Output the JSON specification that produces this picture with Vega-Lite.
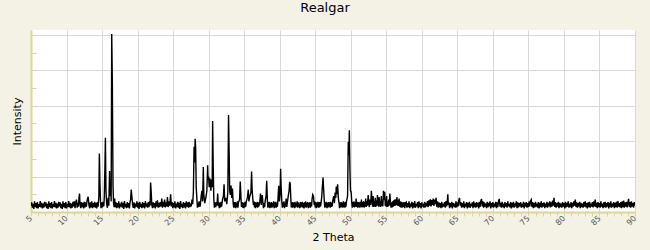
{
  "$schema": "https://vega.github.io/schema/vega-lite/v6.json",
  "autosize": "none",
  "width": 604,
  "height": 182,
  "padding": {"left": 31, "top": 30, "right": 15, "bottom": 38},
  "background": "#f4f2e5",
  "title": {"text": "Realgar", "fontSize": 13, "font": "DejaVu Sans", "fontWeight": "normal", "color": "#000000", "baseline": "alphabetic", "offset": 5, "dx": -8},
  "config": {"view": {"stroke": null, "fill": "#ffffff"}},
  "data": {"values": [
    {"theta":5.0,"intensity":18},{"theta":5.1,"intensity":27},{"theta":5.2,"intensity":12},{"theta":5.3,"intensity":23},{"theta":5.4,"intensity":9},
    {"theta":5.5,"intensity":30},{"theta":5.6,"intensity":14},{"theta":5.7,"intensity":25},{"theta":5.8,"intensity":11},{"theta":5.9,"intensity":28},
    {"theta":6.0,"intensity":10},{"theta":6.1,"intensity":22},{"theta":6.2,"intensity":15},{"theta":6.3,"intensity":31},{"theta":6.4,"intensity":13},
    {"theta":6.5,"intensity":26},{"theta":6.6,"intensity":10},{"theta":6.7,"intensity":24},{"theta":6.8,"intensity":12},{"theta":6.9,"intensity":29},
    {"theta":7.0,"intensity":16},{"theta":7.1,"intensity":27},{"theta":7.2,"intensity":11},{"theta":7.3,"intensity":23},{"theta":7.4,"intensity":9},
    {"theta":7.5,"intensity":30},{"theta":7.6,"intensity":14},{"theta":7.7,"intensity":25},{"theta":7.8,"intensity":11},{"theta":7.9,"intensity":28},
    {"theta":8.0,"intensity":10},{"theta":8.1,"intensity":22},{"theta":8.2,"intensity":15},{"theta":8.3,"intensity":31},{"theta":8.4,"intensity":13},
    {"theta":8.5,"intensity":26},{"theta":8.6,"intensity":10},{"theta":8.7,"intensity":24},{"theta":8.8,"intensity":12},{"theta":8.9,"intensity":29},
    {"theta":9.0,"intensity":16},{"theta":9.1,"intensity":27},{"theta":9.2,"intensity":11},{"theta":9.3,"intensity":23},{"theta":9.4,"intensity":9},
    {"theta":9.5,"intensity":30},{"theta":9.6,"intensity":14},{"theta":9.7,"intensity":25},{"theta":9.8,"intensity":11},{"theta":9.9,"intensity":28},
    {"theta":10.0,"intensity":10},{"theta":10.1,"intensity":22},{"theta":10.2,"intensity":15},{"theta":10.3,"intensity":31},{"theta":10.4,"intensity":13},
    {"theta":10.5,"intensity":26},{"theta":10.6,"intensity":10},{"theta":10.7,"intensity":24},{"theta":10.8,"intensity":12},{"theta":10.9,"intensity":29},
    {"theta":11.0,"intensity":16},{"theta":11.1,"intensity":30},{"theta":11.2,"intensity":11},{"theta":11.3,"intensity":28},{"theta":11.4,"intensity":35},
    {"theta":11.5,"intensity":12},{"theta":11.6,"intensity":26},{"theta":11.68,"intensity":15},{"theta":11.75,"intensity":40},
    {"theta":11.83,"intensity":52},{"theta":11.9,"intensity":22},{"theta":12.0,"intensity":11},{"theta":12.1,"intensity":28},{"theta":12.2,"intensity":14},
    {"theta":12.3,"intensity":26},{"theta":12.4,"intensity":10},{"theta":12.5,"intensity":29},{"theta":12.6,"intensity":13},{"theta":12.7,"intensity":27},
    {"theta":12.8,"intensity":15},{"theta":12.88,"intensity":30},{"theta":12.95,"intensity":38},{"theta":13.05,"intensity":43},{"theta":13.15,"intensity":20},
    {"theta":13.25,"intensity":10},{"theta":13.35,"intensity":27},{"theta":13.45,"intensity":13},{"theta":13.55,"intensity":30},{"theta":13.65,"intensity":11},
    {"theta":13.75,"intensity":25},{"theta":13.85,"intensity":14},{"theta":13.95,"intensity":29},{"theta":14.05,"intensity":12},{"theta":14.15,"intensity":26},
    {"theta":14.25,"intensity":10},{"theta":14.35,"intensity":28},{"theta":14.45,"intensity":15},{"theta":14.55,"intensity":45},{"theta":14.62,"intensity":165},{"theta":14.7,"intensity":82},
    {"theta":14.78,"intensity":30},{"theta":14.85,"intensity":11},{"theta":14.95,"intensity":27},{"theta":15.05,"intensity":13},{"theta":15.15,"intensity":29},{"theta":15.25,"intensity":16},{"theta":15.32,"intensity":45},
    {"theta":15.4,"intensity":125},{"theta":15.47,"intensity":210},{"theta":15.55,"intensity":60},{"theta":15.65,"intensity":22},{"theta":15.75,"intensity":12},
    {"theta":15.85,"intensity":40},{"theta":15.95,"intensity":18},{"theta":16.06,"intensity":116},{"theta":16.13,"intensity":45},{"theta":16.22,"intensity":70},
    {"theta":16.28,"intensity":30},{"theta":16.36,"intensity":503},{"theta":16.45,"intensity":362},{"theta":16.54,"intensity":75},{"theta":16.62,"intensity":25},
    {"theta":16.7,"intensity":14},{"theta":16.77,"intensity":38},
    {"theta":16.85,"intensity":14},{"theta":16.95,"intensity":28},{"theta":17.05,"intensity":11},{"theta":17.15,"intensity":25},{"theta":17.25,"intensity":13},
    {"theta":17.35,"intensity":30},{"theta":17.45,"intensity":10},{"theta":17.55,"intensity":24},{"theta":17.65,"intensity":15},{"theta":17.75,"intensity":29},
    {"theta":17.85,"intensity":12},{"theta":17.95,"intensity":26},{"theta":18.05,"intensity":9},{"theta":18.15,"intensity":31},{"theta":18.25,"intensity":14},
    {"theta":18.35,"intensity":23},{"theta":18.45,"intensity":11},{"theta":18.55,"intensity":28},{"theta":18.65,"intensity":13},{"theta":18.75,"intensity":25},
    {"theta":18.85,"intensity":10},{"theta":18.95,"intensity":30},{"theta":19.02,"intensity":35},{"theta":19.1,"intensity":63},{"theta":19.2,"intensity":43},
    {"theta":19.3,"intensity":20},{"theta":19.4,"intensity":12},{"theta":19.5,"intensity":27},{"theta":19.6,"intensity":10},{"theta":19.7,"intensity":24},
    {"theta":19.8,"intensity":15},{"theta":19.9,"intensity":30},{"theta":20.0,"intensity":12},{"theta":20.1,"intensity":26},{"theta":20.2,"intensity":9},
    {"theta":20.3,"intensity":29},{"theta":20.4,"intensity":14},{"theta":20.5,"intensity":23},{"theta":20.6,"intensity":11},{"theta":20.7,"intensity":28},
    {"theta":20.8,"intensity":13},{"theta":20.9,"intensity":25},{"theta":21.0,"intensity":10},{"theta":21.1,"intensity":31},{"theta":21.2,"intensity":15},
    {"theta":21.3,"intensity":24},{"theta":21.4,"intensity":12},{"theta":21.5,"intensity":28},{"theta":21.6,"intensity":14},{"theta":21.7,"intensity":30},
    {"theta":21.77,"intensity":18},{"theta":21.83,"intensity":83},{"theta":21.92,"intensity":55},{"theta":22.0,"intensity":20},{"theta":22.1,"intensity":11},
    {"theta":22.2,"intensity":27},{"theta":22.3,"intensity":13},{"theta":22.4,"intensity":25},{"theta":22.5,"intensity":10},{"theta":22.6,"intensity":30},
    {"theta":22.7,"intensity":15},{"theta":22.8,"intensity":33},{"theta":22.9,"intensity":12},{"theta":23.0,"intensity":26},{"theta":23.1,"intensity":14},
    {"theta":23.2,"intensity":28},{"theta":23.3,"intensity":16},{"theta":23.4,"intensity":38},{"theta":23.5,"intensity":12},{"theta":23.6,"intensity":29},
    {"theta":23.7,"intensity":15},{"theta":23.8,"intensity":35},{"theta":23.9,"intensity":13},{"theta":24.0,"intensity":27},{"theta":24.1,"intensity":16},
    {"theta":24.2,"intensity":42},{"theta":24.3,"intensity":14},{"theta":24.4,"intensity":30},{"theta":24.5,"intensity":18},{"theta":24.58,"intensity":32},
    {"theta":24.65,"intensity":50},{"theta":24.75,"intensity":16},{"theta":24.85,"intensity":28},{"theta":24.95,"intensity":11},{"theta":25.05,"intensity":25},
    {"theta":25.15,"intensity":13},{"theta":25.25,"intensity":30},{"theta":25.35,"intensity":10},{"theta":25.45,"intensity":24},{"theta":25.55,"intensity":14},
    {"theta":25.65,"intensity":29},{"theta":25.75,"intensity":12},{"theta":25.85,"intensity":26},{"theta":25.95,"intensity":9},{"theta":26.05,"intensity":31},
    {"theta":26.15,"intensity":14},{"theta":26.25,"intensity":23},{"theta":26.35,"intensity":11},{"theta":26.45,"intensity":28},{"theta":26.55,"intensity":13},
    {"theta":26.65,"intensity":25},{"theta":26.75,"intensity":10},{"theta":26.85,"intensity":30},{"theta":26.95,"intensity":15},{"theta":27.05,"intensity":27},
    {"theta":27.15,"intensity":12},{"theta":27.25,"intensity":29},{"theta":27.35,"intensity":14},{"theta":27.45,"intensity":24},{"theta":27.55,"intensity":16},
    {"theta":27.65,"intensity":35},{"theta":27.75,"intensity":22},{"theta":27.85,"intensity":55},{"theta":27.95,"intensity":184},{"theta":28.03,"intensity":140},
    {"theta":28.1,"intensity":207},{"theta":28.17,"intensity":183},{"theta":28.25,"intensity":70},{"theta":28.35,"intensity":35},{"theta":28.42,"intensity":12},{"theta":28.5,"intensity":26},
    {"theta":28.58,"intensity":14},{"theta":28.65,"intensity":30},{"theta":28.8,"intensity":15},{"theta":28.95,"intensity":45},{"theta":29.05,"intensity":60},{"theta":29.15,"intensity":30},
    {"theta":29.25,"intensity":127},{"theta":29.32,"intensity":50},{"theta":29.45,"intensity":25},{"theta":29.6,"intensity":40},{"theta":29.75,"intensity":60},
    {"theta":29.86,"intensity":132},{"theta":29.92,"intensity":90},{"theta":30.0,"intensity":100},{"theta":30.08,"intensity":70},{"theta":30.15,"intensity":95},
    {"theta":30.25,"intensity":88},{"theta":30.32,"intensity":60},{"theta":30.42,"intensity":92},{"theta":30.5,"intensity":70},{"theta":30.56,"intensity":257},
    {"theta":30.64,"intensity":134},{"theta":30.72,"intensity":40},{"theta":30.8,"intensity":12},{"theta":30.9,"intensity":27},{"theta":31.0,"intensity":14},{"theta":31.1,"intensity":28},
    {"theta":31.18,"intensity":18},{"theta":31.27,"intensity":52},{"theta":31.35,"intensity":18},{"theta":31.42,"intensity":28},{"theta":31.5,"intensity":11},{"theta":31.58,"intensity":26},{"theta":31.66,"intensity":13},
    {"theta":31.74,"intensity":29},{"theta":31.82,"intensity":15},{"theta":31.95,"intensity":35},{"theta":32.08,"intensity":45},{"theta":32.17,"intensity":78},{"theta":32.26,"intensity":30},{"theta":32.4,"intensity":40},
    {"theta":32.55,"intensity":22},{"theta":32.7,"intensity":55},{"theta":32.8,"intensity":274},{"theta":32.88,"intensity":175},{"theta":32.96,"intensity":60},
    {"theta":33.05,"intensity":48},{"theta":33.15,"intensity":75},{"theta":33.25,"intensity":40},{"theta":33.35,"intensity":66},{"theta":33.45,"intensity":25},
    {"theta":33.53,"intensity":12},{"theta":33.6,"intensity":28},{"theta":33.68,"intensity":13},{"theta":33.75,"intensity":28},{"theta":33.82,"intensity":11},{"theta":33.9,"intensity":26},{"theta":33.98,"intensity":14},{"theta":34.05,"intensity":30},{"theta":34.12,"intensity":12},{"theta":34.2,"intensity":27},
    {"theta":34.35,"intensity":35},{"theta":34.45,"intensity":86},{"theta":34.55,"intensity":40},{"theta":34.62,"intensity":14},{"theta":34.7,"intensity":28},{"theta":34.78,"intensity":12},{"theta":34.85,"intensity":26},
    {"theta":34.93,"intensity":11},{"theta":35.0,"intensity":27},{"theta":35.08,"intensity":13},{"theta":35.15,"intensity":29},{"theta":35.22,"intensity":15},{"theta":35.3,"intensity":30},{"theta":35.45,"intensity":40},{"theta":35.58,"intensity":63},
    {"theta":35.66,"intensity":30},{"theta":35.8,"intensity":45},{"theta":35.95,"intensity":55},{"theta":36.04,"intensity":114},{"theta":36.12,"intensity":64},
    {"theta":36.2,"intensity":40},{"theta":36.3,"intensity":20},{"theta":36.38,"intensity":30},{"theta":36.45,"intensity":13},{"theta":36.53,"intensity":28},{"theta":36.6,"intensity":11},{"theta":36.68,"intensity":26},{"theta":36.75,"intensity":14},
    {"theta":36.83,"intensity":29},{"theta":36.9,"intensity":12},{"theta":36.98,"intensity":27},{"theta":37.05,"intensity":15},{"theta":37.2,"intensity":30},{"theta":37.3,"intensity":52},{"theta":37.4,"intensity":20},
    {"theta":37.55,"intensity":48},{"theta":37.65,"intensity":22},{"theta":37.72,"intensity":11},{"theta":37.8,"intensity":26},{"theta":37.88,"intensity":14},{"theta":37.95,"intensity":30},{"theta":38.08,"intensity":45},
    {"theta":38.17,"intensity":88},{"theta":38.26,"intensity":35},{"theta":38.33,"intensity":12},{"theta":38.4,"intensity":27},{"theta":38.48,"intensity":14},{"theta":38.55,"intensity":29},{"theta":38.62,"intensity":11},{"theta":38.7,"intensity":26},
    {"theta":38.78,"intensity":13},{"theta":38.85,"intensity":28},{"theta":38.92,"intensity":12},{"theta":39.0,"intensity":25},{"theta":39.08,"intensity":15},{"theta":39.15,"intensity":30},{"theta":39.22,"intensity":11},{"theta":39.3,"intensity":27},{"theta":39.38,"intensity":13},{"theta":39.45,"intensity":29},
    {"theta":39.52,"intensity":12},{"theta":39.6,"intensity":26},{"theta":39.68,"intensity":15},{"theta":39.75,"intensity":35},{"theta":39.86,"intensity":74},{"theta":39.95,"intensity":30},{"theta":40.05,"intensity":50},
    {"theta":40.13,"intensity":122},{"theta":40.2,"intensity":70},{"theta":40.3,"intensity":28},{"theta":40.38,"intensity":12},{"theta":40.45,"intensity":27},{"theta":40.52,"intensity":14},{"theta":40.6,"intensity":30},
    {"theta":40.68,"intensity":11},{"theta":40.75,"intensity":26},{"theta":40.82,"intensity":15},{"theta":40.9,"intensity":38},{"theta":41.0,"intensity":14},{"theta":41.08,"intensity":28},{"theta":41.2,"intensity":45},{"theta":41.32,"intensity":60},
    {"theta":41.4,"intensity":85},{"theta":41.48,"intensity":80},{"theta":41.56,"intensity":40},{"theta":41.63,"intensity":13},{"theta":41.7,"intensity":27},{"theta":41.78,"intensity":12},{"theta":41.85,"intensity":28},
    {"theta":41.92,"intensity":14},{"theta":42.0,"intensity":26},{"theta":42.08,"intensity":11},{"theta":42.15,"intensity":29},{"theta":42.22,"intensity":13},{"theta":42.3,"intensity":25},{"theta":42.38,"intensity":15},{"theta":42.45,"intensity":30},{"theta":42.52,"intensity":12},{"theta":42.6,"intensity":27},
    {"theta":42.68,"intensity":14},{"theta":42.75,"intensity":24},{"theta":42.82,"intensity":11},{"theta":42.9,"intensity":28},{"theta":42.98,"intensity":13},{"theta":43.05,"intensity":27},{"theta":43.12,"intensity":15},{"theta":43.2,"intensity":29},{"theta":43.28,"intensity":12},{"theta":43.35,"intensity":25},
    {"theta":43.42,"intensity":10},{"theta":43.5,"intensity":27},{"theta":43.58,"intensity":14},{"theta":43.65,"intensity":30},{"theta":43.72,"intensity":12},{"theta":43.8,"intensity":26},{"theta":43.88,"intensity":15},{"theta":43.95,"intensity":28},{"theta":44.02,"intensity":11},{"theta":44.1,"intensity":25},
    {"theta":44.18,"intensity":13},{"theta":44.25,"intensity":28},{"theta":44.32,"intensity":12},{"theta":44.4,"intensity":27},{"theta":44.48,"intensity":16},{"theta":44.55,"intensity":35},{"theta":44.65,"intensity":49},{"theta":44.75,"intensity":45},
    {"theta":44.85,"intensity":20},{"theta":44.92,"intensity":30},{"theta":45.0,"intensity":13},{"theta":45.08,"intensity":28},{"theta":45.15,"intensity":11},{"theta":45.22,"intensity":26},{"theta":45.3,"intensity":14},{"theta":45.38,"intensity":29},{"theta":45.45,"intensity":12},
    {"theta":45.52,"intensity":27},{"theta":45.6,"intensity":13},{"theta":45.68,"intensity":28},{"theta":45.75,"intensity":16},{"theta":45.82,"intensity":26},{"theta":45.9,"intensity":40},{"theta":46.0,"intensity":70},{"theta":46.1,"intensity":97},
    {"theta":46.18,"intensity":65},{"theta":46.28,"intensity":30},{"theta":46.35,"intensity":12},{"theta":46.42,"intensity":27},{"theta":46.5,"intensity":14},{"theta":46.58,"intensity":29},{"theta":46.65,"intensity":11},{"theta":46.72,"intensity":26},
    {"theta":46.8,"intensity":13},{"theta":46.88,"intensity":28},{"theta":46.95,"intensity":15},{"theta":47.02,"intensity":27},{"theta":47.1,"intensity":12},{"theta":47.18,"intensity":29},{"theta":47.25,"intensity":14},{"theta":47.32,"intensity":26},{"theta":47.4,"intensity":16},{"theta":47.45,"intensity":30},
    {"theta":47.6,"intensity":45},{"theta":47.7,"intensity":25},{"theta":47.8,"intensity":55},{"theta":47.9,"intensity":40},{"theta":47.96,"intensity":72},
    {"theta":48.05,"intensity":50},{"theta":48.15,"intensity":78},{"theta":48.25,"intensity":40},{"theta":48.35,"intensity":25},{"theta":48.42,"intensity":11},{"theta":48.5,"intensity":27},
    {"theta":48.58,"intensity":13},{"theta":48.65,"intensity":28},{"theta":48.72,"intensity":14},{"theta":48.8,"intensity":26},{"theta":48.88,"intensity":12},{"theta":48.95,"intensity":30},{"theta":49.02,"intensity":14},{"theta":49.1,"intensity":27},{"theta":49.18,"intensity":12},{"theta":49.25,"intensity":29},
    {"theta":49.32,"intensity":15},{"theta":49.4,"intensity":30},{"theta":49.55,"intensity":45},{"theta":49.65,"intensity":198},{"theta":49.72,"intensity":160},{"theta":49.8,"intensity":231},
    {"theta":49.88,"intensity":122},{"theta":49.96,"intensity":60},{"theta":50.05,"intensity":57},{"theta":50.15,"intensity":25},{"theta":50.22,"intensity":12},{"theta":50.3,"intensity":28},
    {"theta":50.38,"intensity":14},{"theta":50.45,"intensity":30},{"theta":50.52,"intensity":13},{"theta":50.6,"intensity":27},{"theta":50.68,"intensity":15},{"theta":50.75,"intensity":38},{"theta":50.82,"intensity":14},{"theta":50.9,"intensity":29},{"theta":50.98,"intensity":12},{"theta":51.05,"intensity":28},
    {"theta":51.12,"intensity":14},{"theta":51.2,"intensity":27},{"theta":51.28,"intensity":12},{"theta":51.35,"intensity":29},{"theta":51.42,"intensity":15},{"theta":51.5,"intensity":35},{"theta":51.58,"intensity":13},{"theta":51.65,"intensity":28},{"theta":51.72,"intensity":14},{"theta":51.8,"intensity":30},
    {"theta":51.88,"intensity":12},{"theta":51.95,"intensity":28},{"theta":52.02,"intensity":15},{"theta":52.1,"intensity":38},{"theta":52.18,"intensity":14},{"theta":52.25,"intensity":30},{"theta":52.35,"intensity":18},{"theta":52.45,"intensity":48},{"theta":52.55,"intensity":22},
    {"theta":52.62,"intensity":14},{"theta":52.7,"intensity":35},{"theta":52.8,"intensity":20},{"theta":52.9,"intensity":60},{"theta":53.0,"intensity":30},{"theta":53.08,"intensity":15},{"theta":53.15,"intensity":45},{"theta":53.22,"intensity":14},{"theta":53.3,"intensity":30},
    {"theta":53.38,"intensity":16},{"theta":53.45,"intensity":40},{"theta":53.52,"intensity":14},{"theta":53.6,"intensity":32},{"theta":53.68,"intensity":18},{"theta":53.75,"intensity":48},{"theta":53.85,"intensity":25},{"theta":53.92,"intensity":15},{"theta":54.0,"intensity":42},
    {"theta":54.08,"intensity":16},{"theta":54.15,"intensity":30},{"theta":54.22,"intensity":14},{"theta":54.3,"intensity":45},{"theta":54.38,"intensity":18},{"theta":54.45,"intensity":32},{"theta":54.52,"intensity":16},{"theta":54.6,"intensity":60},{"theta":54.7,"intensity":35},
    {"theta":54.78,"intensity":57},{"theta":54.85,"intensity":18},{"theta":54.92,"intensity":32},{"theta":54.98,"intensity":15},{"theta":55.05,"intensity":45},{"theta":55.12,"intensity":14},{"theta":55.2,"intensity":30},{"theta":55.28,"intensity":16},{"theta":55.35,"intensity":35},
    {"theta":55.42,"intensity":18},{"theta":55.5,"intensity":52},{"theta":55.6,"intensity":25},{"theta":55.67,"intensity":12},{"theta":55.75,"intensity":27},{"theta":55.82,"intensity":13},{"theta":55.9,"intensity":30},{"theta":55.98,"intensity":15},{"theta":56.05,"intensity":33},
    {"theta":56.12,"intensity":17},{"theta":56.2,"intensity":35},{"theta":56.28,"intensity":18},{"theta":56.35,"intensity":36},{"theta":56.42,"intensity":20},{"theta":56.5,"intensity":42},{"theta":56.58,"intensity":18},{"theta":56.65,"intensity":34},{"theta":56.72,"intensity":17},{"theta":56.8,"intensity":38},
    {"theta":56.88,"intensity":15},{"theta":56.95,"intensity":30},{"theta":57.02,"intensity":13},{"theta":57.1,"intensity":29},{"theta":57.2,"intensity":12},{"theta":57.3,"intensity":27},{"theta":57.4,"intensity":14},{"theta":57.5,"intensity":28},{"theta":57.6,"intensity":11},{"theta":57.7,"intensity":26},
    {"theta":57.8,"intensity":28},{"theta":57.9,"intensity":12},{"theta":58.0,"intensity":25},{"theta":58.1,"intensity":14},{"theta":58.2,"intensity":30},
    {"theta":58.3,"intensity":11},{"theta":58.4,"intensity":24},{"theta":58.5,"intensity":15},{"theta":58.6,"intensity":29},{"theta":58.7,"intensity":10},
    {"theta":58.8,"intensity":26},{"theta":58.9,"intensity":13},{"theta":59.0,"intensity":31},{"theta":59.1,"intensity":12},{"theta":59.2,"intensity":23},
    {"theta":59.3,"intensity":16},{"theta":59.4,"intensity":28},{"theta":59.5,"intensity":11},{"theta":59.6,"intensity":30},{"theta":59.7,"intensity":14},
    {"theta":59.8,"intensity":25},{"theta":59.9,"intensity":10},{"theta":60.0,"intensity":27},{"theta":60.1,"intensity":15},{"theta":60.2,"intensity":24},
    {"theta":60.3,"intensity":12},{"theta":60.4,"intensity":29},{"theta":60.5,"intensity":13},{"theta":60.6,"intensity":26},{"theta":60.7,"intensity":16},
    {"theta":60.8,"intensity":31},{"theta":60.9,"intensity":14},{"theta":61.0,"intensity":33},{"theta":61.1,"intensity":18},{"theta":61.2,"intensity":36},
    {"theta":61.3,"intensity":16},{"theta":61.4,"intensity":34},{"theta":61.5,"intensity":20},{"theta":61.6,"intensity":38},{"theta":61.7,"intensity":17},
    {"theta":61.8,"intensity":35},{"theta":61.9,"intensity":22},{"theta":62.0,"intensity":40},{"theta":62.1,"intensity":15},{"theta":62.2,"intensity":30},
    {"theta":62.3,"intensity":12},{"theta":62.4,"intensity":27},{"theta":62.5,"intensity":14},{"theta":62.6,"intensity":25},{"theta":62.7,"intensity":11},
    {"theta":62.8,"intensity":29},{"theta":62.9,"intensity":13},{"theta":63.0,"intensity":24},{"theta":63.1,"intensity":15},{"theta":63.2,"intensity":28},
    {"theta":63.3,"intensity":12},{"theta":63.4,"intensity":31},{"theta":63.5,"intensity":16},{"theta":63.6,"intensity":35},{"theta":63.66,"intensity":50},
    {"theta":63.72,"intensity":20},{"theta":63.8,"intensity":27},{"theta":63.9,"intensity":11},{"theta":64.0,"intensity":25},{"theta":64.1,"intensity":14},
    {"theta":64.2,"intensity":29},{"theta":64.3,"intensity":10},{"theta":64.4,"intensity":26},{"theta":64.5,"intensity":15},{"theta":64.6,"intensity":24},
    {"theta":64.7,"intensity":12},{"theta":64.8,"intensity":30},{"theta":64.9,"intensity":13},{"theta":65.0,"intensity":27},{"theta":65.1,"intensity":16},
    {"theta":65.2,"intensity":33},{"theta":65.3,"intensity":40},{"theta":65.4,"intensity":18},{"theta":65.5,"intensity":28},{"theta":65.6,"intensity":12},
    {"theta":65.7,"intensity":25},{"theta":65.8,"intensity":14},{"theta":65.9,"intensity":30},{"theta":66.0,"intensity":11},{"theta":66.1,"intensity":24},
    {"theta":66.2,"intensity":15},{"theta":66.3,"intensity":28},{"theta":66.4,"intensity":10},{"theta":66.5,"intensity":26},{"theta":66.6,"intensity":13},
    {"theta":66.7,"intensity":29},{"theta":66.8,"intensity":12},{"theta":66.9,"intensity":23},{"theta":67.0,"intensity":16},{"theta":67.1,"intensity":27},
    {"theta":67.2,"intensity":11},{"theta":67.3,"intensity":30},{"theta":67.4,"intensity":14},{"theta":67.5,"intensity":25},{"theta":67.6,"intensity":12},
    {"theta":67.7,"intensity":28},{"theta":67.8,"intensity":15},{"theta":67.9,"intensity":26},{"theta":68.0,"intensity":10},{"theta":68.1,"intensity":29},
    {"theta":68.2,"intensity":14},{"theta":68.3,"intensity":31},{"theta":68.4,"intensity":37},{"theta":68.5,"intensity":16},{"theta":68.6,"intensity":30},
    {"theta":68.7,"intensity":12},{"theta":68.8,"intensity":27},{"theta":68.9,"intensity":15},{"theta":69.0,"intensity":24},{"theta":69.1,"intensity":11},
    {"theta":69.2,"intensity":29},{"theta":69.3,"intensity":13},{"theta":69.4,"intensity":26},{"theta":69.5,"intensity":16},{"theta":69.6,"intensity":30},
    {"theta":69.7,"intensity":10},{"theta":69.8,"intensity":25},{"theta":69.9,"intensity":14},{"theta":70.0,"intensity":28},{"theta":70.1,"intensity":12},
    {"theta":70.2,"intensity":24},{"theta":70.3,"intensity":15},{"theta":70.4,"intensity":29},{"theta":70.5,"intensity":11},{"theta":70.6,"intensity":27},
    {"theta":70.7,"intensity":14},{"theta":70.8,"intensity":31},{"theta":70.9,"intensity":37},{"theta":71.0,"intensity":15},{"theta":71.1,"intensity":26},
    {"theta":71.2,"intensity":12},{"theta":71.3,"intensity":29},{"theta":71.4,"intensity":14},{"theta":71.5,"intensity":24},{"theta":71.6,"intensity":11},
    {"theta":71.7,"intensity":28},{"theta":71.8,"intensity":15},{"theta":71.9,"intensity":25},{"theta":72.0,"intensity":12},{"theta":72.1,"intensity":30},
    {"theta":72.2,"intensity":16},{"theta":72.3,"intensity":23},{"theta":72.4,"intensity":13},{"theta":72.5,"intensity":28},{"theta":72.6,"intensity":10},
    {"theta":72.7,"intensity":26},{"theta":72.8,"intensity":14},{"theta":72.9,"intensity":29},{"theta":73.0,"intensity":12},{"theta":73.1,"intensity":24},
    {"theta":73.2,"intensity":15},{"theta":73.3,"intensity":30},{"theta":73.4,"intensity":11},{"theta":73.5,"intensity":27},{"theta":73.6,"intensity":13},
    {"theta":73.7,"intensity":25},{"theta":73.8,"intensity":16},{"theta":73.9,"intensity":28},{"theta":74.0,"intensity":12},{"theta":74.1,"intensity":24},
    {"theta":74.2,"intensity":14},{"theta":74.3,"intensity":29},{"theta":74.4,"intensity":10},{"theta":74.5,"intensity":26},{"theta":74.6,"intensity":15},
    {"theta":74.7,"intensity":28},{"theta":74.8,"intensity":12},{"theta":74.9,"intensity":25},{"theta":75.0,"intensity":14},{"theta":75.1,"intensity":30},
    {"theta":75.2,"intensity":16},{"theta":75.3,"intensity":32},{"theta":75.4,"intensity":35},{"theta":75.5,"intensity":14},{"theta":75.6,"intensity":28},
    {"theta":75.7,"intensity":11},{"theta":75.8,"intensity":25},{"theta":75.9,"intensity":13},{"theta":76.0,"intensity":29},{"theta":76.1,"intensity":15},
    {"theta":76.2,"intensity":24},{"theta":76.3,"intensity":12},{"theta":76.4,"intensity":28},{"theta":76.5,"intensity":10},{"theta":76.6,"intensity":26},
    {"theta":76.7,"intensity":14},{"theta":76.8,"intensity":30},{"theta":76.9,"intensity":12},{"theta":77.0,"intensity":25},{"theta":77.1,"intensity":15},
    {"theta":77.2,"intensity":27},{"theta":77.3,"intensity":11},{"theta":77.4,"intensity":24},{"theta":77.5,"intensity":14},{"theta":77.6,"intensity":29},
    {"theta":77.7,"intensity":12},{"theta":77.8,"intensity":26},{"theta":77.9,"intensity":16},{"theta":78.0,"intensity":30},{"theta":78.1,"intensity":13},
    {"theta":78.2,"intensity":27},{"theta":78.3,"intensity":15},{"theta":78.4,"intensity":32},{"theta":78.5,"intensity":18},{"theta":78.6,"intensity":40},
    {"theta":78.7,"intensity":14},{"theta":78.8,"intensity":28},{"theta":78.9,"intensity":12},{"theta":79.0,"intensity":25},{"theta":79.1,"intensity":15},
    {"theta":79.2,"intensity":29},{"theta":79.3,"intensity":11},{"theta":79.4,"intensity":26},{"theta":79.5,"intensity":14},{"theta":79.6,"intensity":24},
    {"theta":79.7,"intensity":12},{"theta":79.8,"intensity":28},{"theta":79.9,"intensity":15},{"theta":80.0,"intensity":25},{"theta":80.1,"intensity":10},
    {"theta":80.2,"intensity":29},{"theta":80.3,"intensity":13},{"theta":80.4,"intensity":26},{"theta":80.5,"intensity":15},{"theta":80.6,"intensity":30},
    {"theta":80.7,"intensity":12},{"theta":80.8,"intensity":24},{"theta":80.9,"intensity":14},{"theta":81.0,"intensity":28},{"theta":81.1,"intensity":11},
    {"theta":81.2,"intensity":26},{"theta":81.3,"intensity":15},{"theta":81.4,"intensity":30},{"theta":81.5,"intensity":18},{"theta":81.6,"intensity":35},
    {"theta":81.7,"intensity":14},{"theta":81.8,"intensity":27},{"theta":81.9,"intensity":12},{"theta":82.0,"intensity":25},{"theta":82.1,"intensity":15},
    {"theta":82.2,"intensity":29},{"theta":82.3,"intensity":11},{"theta":82.4,"intensity":26},{"theta":82.5,"intensity":14},{"theta":82.6,"intensity":24},
    {"theta":82.7,"intensity":12},{"theta":82.8,"intensity":28},{"theta":82.9,"intensity":15},{"theta":83.0,"intensity":30},{"theta":83.1,"intensity":13},
    {"theta":83.2,"intensity":25},{"theta":83.3,"intensity":10},{"theta":83.4,"intensity":27},{"theta":83.5,"intensity":14},{"theta":83.6,"intensity":29},
    {"theta":83.7,"intensity":12},{"theta":83.8,"intensity":24},{"theta":83.9,"intensity":15},{"theta":84.0,"intensity":28},{"theta":84.1,"intensity":13},
    {"theta":84.2,"intensity":30},{"theta":84.3,"intensity":16},{"theta":84.4,"intensity":35},{"theta":84.5,"intensity":14},{"theta":84.6,"intensity":26},
    {"theta":84.7,"intensity":11},{"theta":84.8,"intensity":28},{"theta":84.9,"intensity":14},{"theta":85.0,"intensity":25},{"theta":85.1,"intensity":12},
    {"theta":85.2,"intensity":30},{"theta":85.3,"intensity":15},{"theta":85.4,"intensity":24},{"theta":85.5,"intensity":11},{"theta":85.6,"intensity":27},
    {"theta":85.7,"intensity":14},{"theta":85.8,"intensity":29},{"theta":85.9,"intensity":12},{"theta":86.0,"intensity":25},{"theta":86.1,"intensity":15},
    {"theta":86.2,"intensity":28},{"theta":86.3,"intensity":10},{"theta":86.4,"intensity":26},{"theta":86.5,"intensity":14},{"theta":86.6,"intensity":30},
    {"theta":86.7,"intensity":12},{"theta":86.8,"intensity":24},{"theta":86.9,"intensity":15},{"theta":87.0,"intensity":28},{"theta":87.1,"intensity":11},
    {"theta":87.2,"intensity":26},{"theta":87.3,"intensity":14},{"theta":87.4,"intensity":29},{"theta":87.5,"intensity":12},{"theta":87.6,"intensity":31},
    {"theta":87.7,"intensity":15},{"theta":87.8,"intensity":25},{"theta":87.9,"intensity":13},{"theta":88.0,"intensity":28},{"theta":88.1,"intensity":11},
    {"theta":88.2,"intensity":30},{"theta":88.3,"intensity":14},{"theta":88.4,"intensity":32},{"theta":88.5,"intensity":12},{"theta":88.6,"intensity":27},
    {"theta":88.7,"intensity":15},{"theta":88.8,"intensity":29},{"theta":88.9,"intensity":13},{"theta":89.0,"intensity":26},{"theta":89.1,"intensity":37},
    {"theta":89.2,"intensity":14},{"theta":89.3,"intensity":28},{"theta":89.4,"intensity":12},{"theta":89.5,"intensity":30},{"theta":89.6,"intensity":15},
    {"theta":89.7,"intensity":25},{"theta":89.8,"intensity":12},{"theta":89.9,"intensity":28},{"theta":90.0,"intensity":18}
  ]},
  "mark": {"type": "line", "color": "#000000", "strokeWidth": 1.4, "clip": true},
  "encoding": {
    "x": {
      "field": "theta", "type": "quantitative",
      "scale": {"domain": [5, 90], "nice": false, "zero": false},
      "axis": {
        "title": "2 Theta", "titleFont": "DejaVu Sans", "titleFontSize": 11, "titleFontWeight": "normal", "titleColor": "#000000", "titlePadding": 4,
        "values": [5,6,7,8,9,10,11,12,13,14,15,16,17,18,19,20,21,22,23,24,25,26,27,28,29,30,31,32,33,34,35,36,37,38,39,40,41,42,43,44,45,46,47,48,49,50,51,52,53,54,55,56,57,58,59,60,61,62,63,64,65,66,67,68,69,70,71,72,73,74,75,76,77,78,79,80,81,82,83,84,85,86,87,88,89,90],
        "labelExpr": "datum.value % 5 === 0 ? datum.label : ''",
        "labelAngle": -45, "labelAlign": "right", "labelBaseline": "middle", "labelFont": "DejaVu Sans", "labelFontSize": 8, "labelColor": "#555555", "labelPadding": 1, "labelOverlap": false, "labelFlush": false,
        "domainColor": "#ddd59c", "domainWidth": 2, "tickColor": "#ddd59c", "tickSize": 4, "tickWidth": 1,
        "grid": true, "gridColor": {"condition": {"test": "datum.value % 5 === 0", "value": "#d9d9d9"}, "value": "transparent"}, "gridWidth": 1
      }
    },
    "y": {
      "field": "intensity", "type": "quantitative",
      "scale": {"domain": [0, 514], "nice": false, "zero": true},
      "axis": {
        "title": "Intensity", "titleFont": "DejaVu Sans", "titleFontSize": 11, "titleFontWeight": "normal", "titleColor": "#000000", "titlePadding": 8,
        "values": [0,50,100,150,200,250,300,350,400,450,500],
        "labels": false,
        "domainColor": "#ddd59c", "domainWidth": 2, "tickColor": "#ddd59c", "tickSize": -5, "tickWidth": 1,
        "grid": true, "gridColor": {"condition": {"test": "datum.value % 100 === 0", "value": "#d9d9d9"}, "value": "transparent"}, "gridWidth": 1
      }
    }
  }
}
